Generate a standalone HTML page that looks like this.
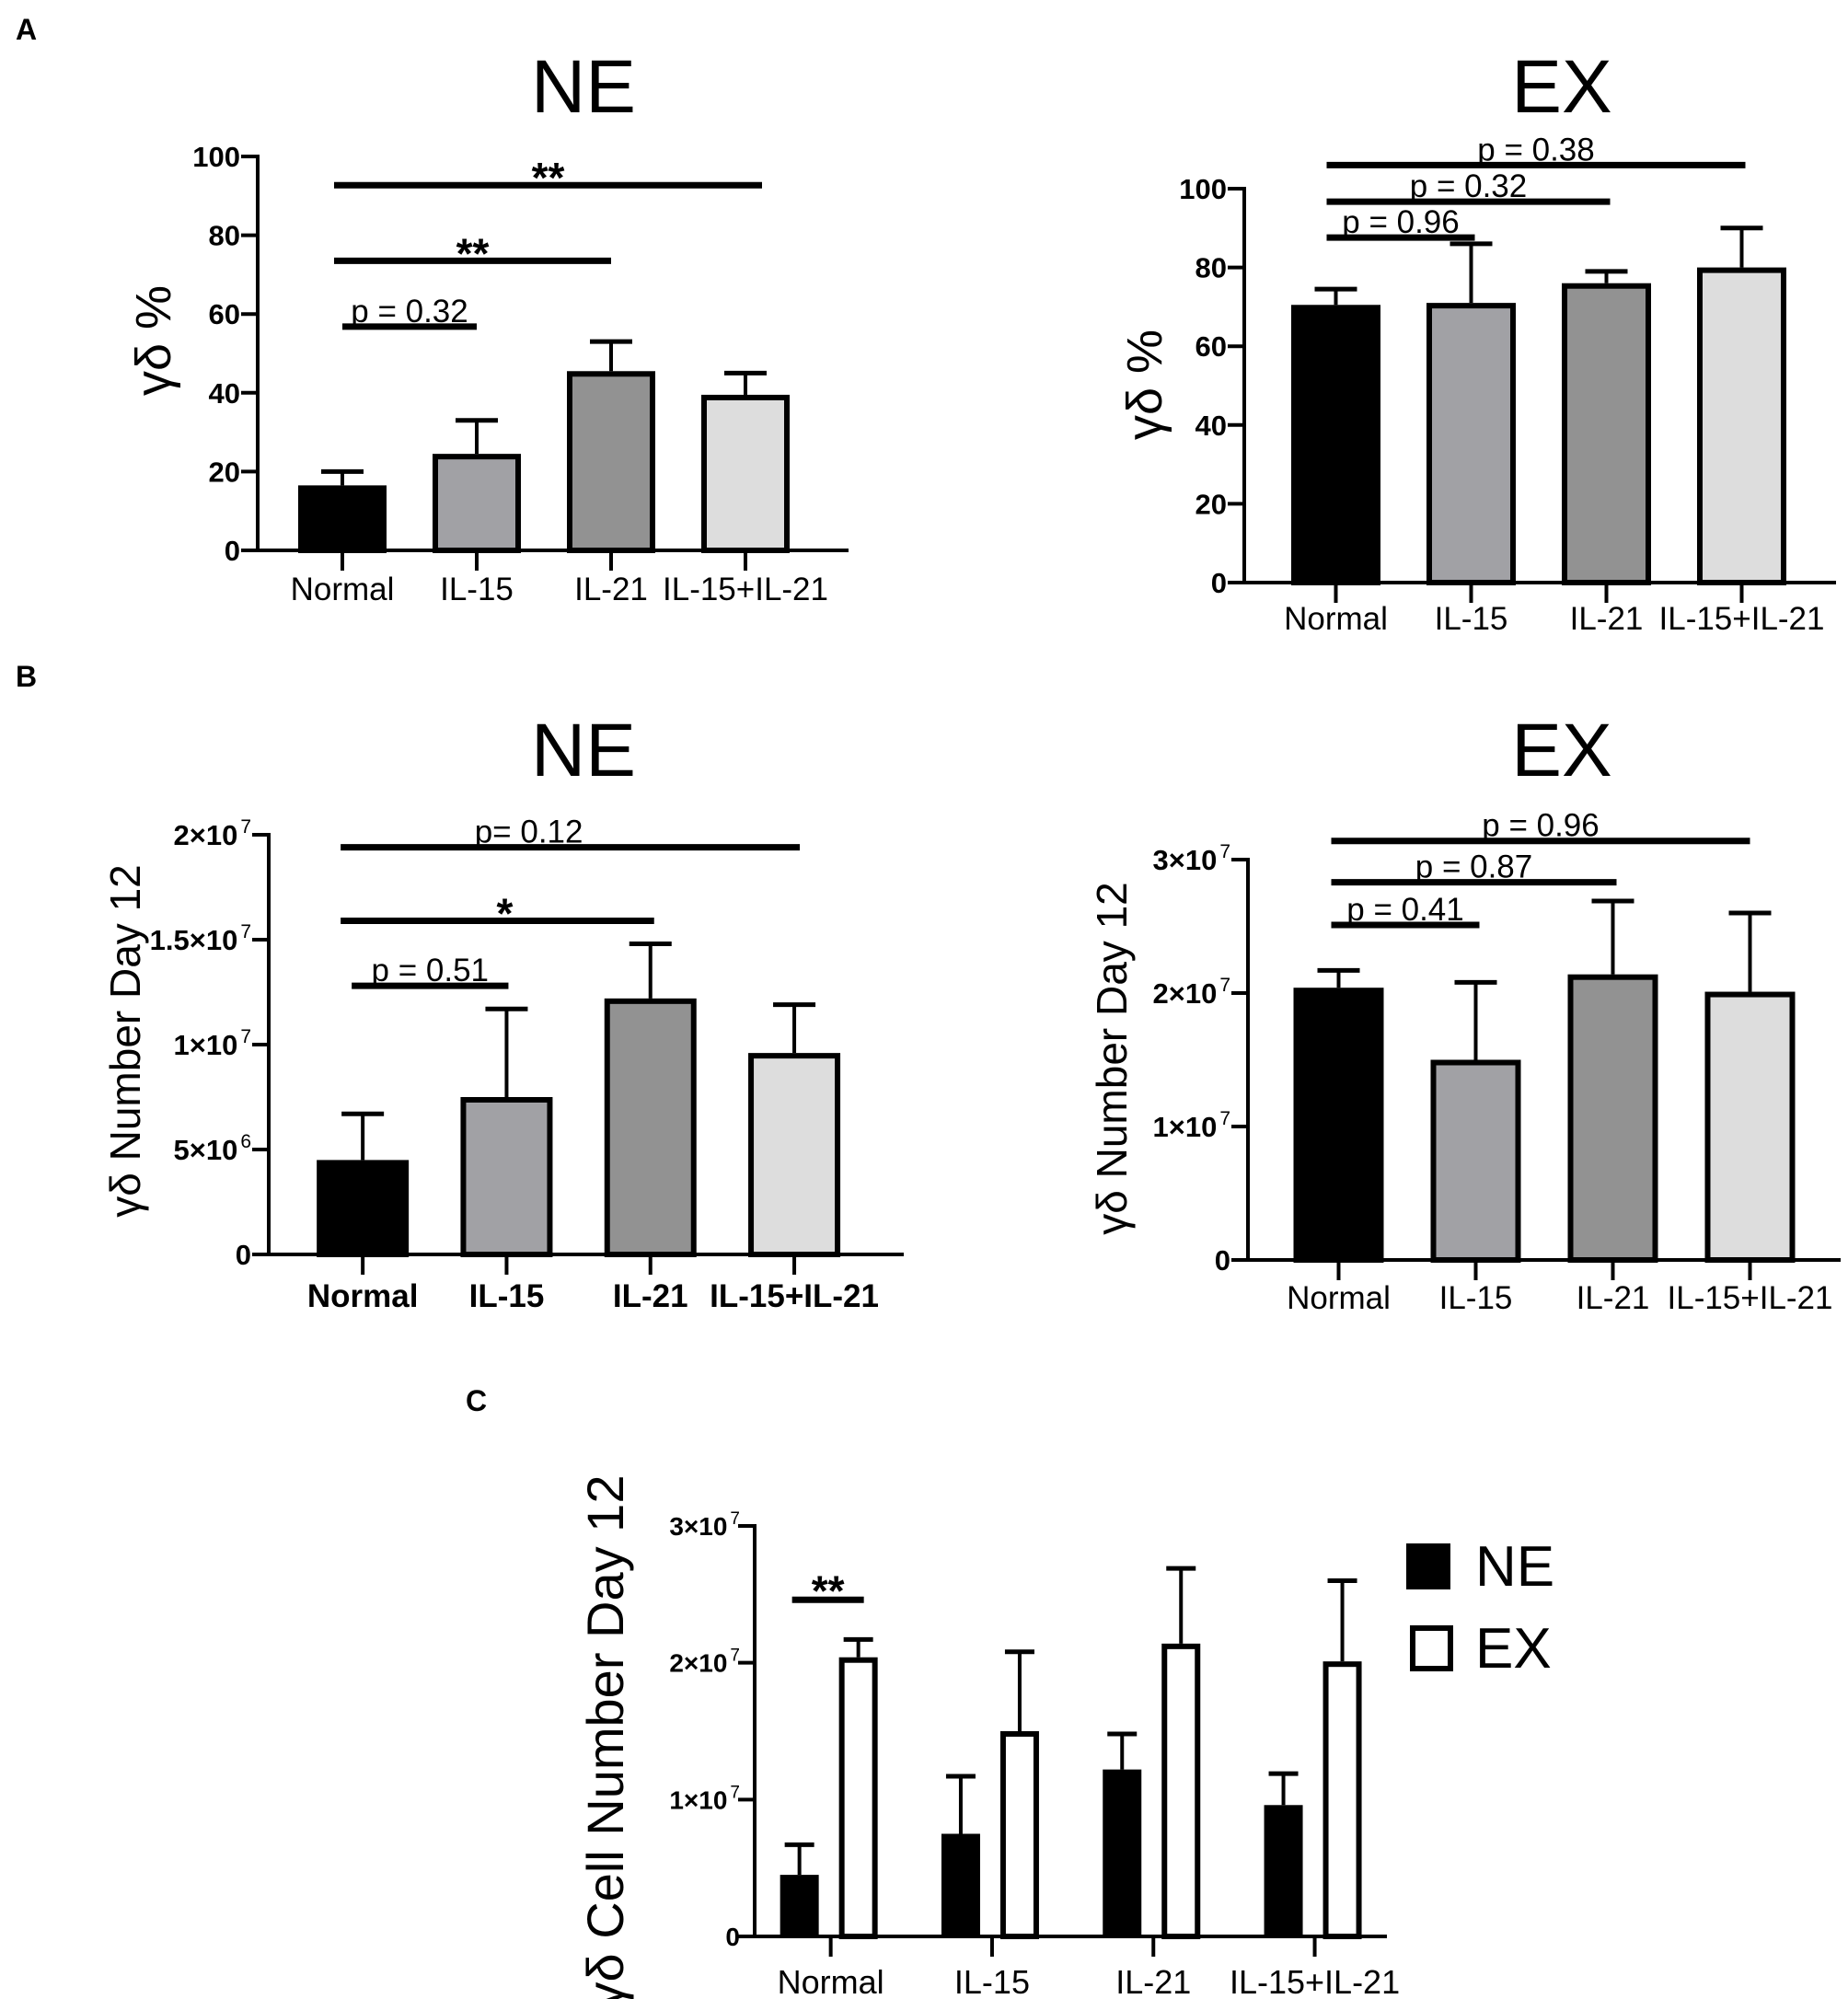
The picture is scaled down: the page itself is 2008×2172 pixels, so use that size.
<!DOCTYPE html>
<html><head><meta charset="utf-8"><title>γδ T cell figure</title>
<style>
html,body{margin:0;padding:0;background:#fff;}
svg{display:block;font-family:"Liberation Sans",Arial,sans-serif;}
.tick{font-weight:bold;font-size:31px;}
</style></head>
<body>
<svg id="fig" width="2008" height="2172" viewBox="0 0 2008 2172" xmlns="http://www.w3.org/2000/svg">
<text x="17" y="43" font-size="32" font-weight="bold">A</text>
<text x="17" y="746" font-size="32" font-weight="bold">B</text>
<text x="506" y="1533" font-size="32" font-weight="bold">C</text>
</svg>
<script>
// ---- data ----
const categories = ["Normal", "IL-15", "IL-21", "IL-15+IL-21"];
const aNeMean = [16.5, 24.5, 45.5, 39.5];
const aNeErr = [20, 33, 53, 45];
const aExMean = [70.5, 71, 76, 80];
const aExErr = [74.5, 86, 79, 90];
const bNeMean = [4.5, 7.5, 12.2, 9.6];     // ×10^6
const bNeErr = [6.7, 11.7, 14.8, 11.9];
const bExMean = [20.4, 15, 21.4, 20.1];    // ×10^6
const bExErr = [21.7, 20.8, 26.9, 26.0];
const pctTicks = [0, 20, 40, 60, 80, 100];
const pctTickLabels = ["0", "20", "40", "60", "80", "100"];
const bNeTicks = [0, 5, 10, 15, 20];
const bNeTickLabels = [["0",""], ["5×10","6"], ["1×10","7"], ["1.5×10","7"], ["2×10","7"]];
const exTicks = [0, 10, 20, 30];
const exTickLabels = [["0",""], ["1×10","7"], ["2×10","7"], ["3×10","7"]];
const aNeSig = [[0, 3, 92.7, "**"], [0, 2, 73.5, "**"], [0, 1, 56.8, "p = 0.32"]];
const aExSig = [[0, 3, 106, "p = 0.38"], [0, 2, 96.7, "p = 0.32"], [0, 1, 87.6, "p = 0.96"]];
const bNeSig = [[0, 3, 19.4, "p= 0.12"], [0, 2, 15.9, "*"], [0, 1, 12.8, "p = 0.51"]];
const bExSig = [[0, 3, 31.4, "p = 0.96"], [0, 2, 28.3, "p = 0.87"], [0, 1, 25.1, "p = 0.41"]];
const cSig = [[0, 24.6, "**"]];
const fills = ["#000000", "#a1a1a5", "#929292", "#dddddd"];

const NS = "http://www.w3.org/2000/svg";
const svg = document.getElementById("fig");
function mk(tag, attrs, parent) {
  const e = document.createElementNS(NS, tag);
  for (const k in attrs) e.setAttribute(k, attrs[k]);
  (parent || svg).appendChild(e);
  return e;
}
function lin(d0, d1, r0, r1) { return v => r0 + (v - d0) / (d1 - d0) * (r1 - r0); }

function panel(cfg) {
  const g = mk("g", {});
  
  
  const y = lin(0, cfg.vmax, cfg.y0, cfg.yMaxPx);
  const xc = i => cfg.left + (i + 0.5) * cfg.band;
  const t = mk("text", {x: cfg.titleX, y: cfg.titleY, "font-size": 82, "text-anchor": "middle"}, g);
  t.textContent = cfg.title;
  
  
  const yl = mk("text", {x: 0, y: 0, "font-size": cfg.ylSize, "text-anchor": "middle", transform: `translate(${cfg.ylX},${cfg.ylY}) rotate(-90)`}, g);
  yl.textContent = cfg.ylabel;
  
  
  cfg.mean.forEach((m, i) => {
    const x = xc(i), w = cfg.barW;
    const ep = mk("line", {x1: x, x2: x, y1: y(m), y2: y(cfg.err[i]), stroke: "#000", "stroke-width": 4}, g);
    
    
    const cap = mk("line", {x1: x - 23, x2: x + 23, y1: y(cfg.err[i]), y2: y(cfg.err[i]), stroke: "#000", "stroke-width": 5}, g);
    
    
    const r = mk("rect", {x: x - w / 2 + 3, y: y(m) + 3, width: w - 6, height: Math.max(0, cfg.y0 - y(m) - 3), fill: fills[i], stroke: "#000", "stroke-width": 6}, g);
    
    
  });
  const ya = mk("line", {x1: cfg.ax, x2: cfg.ax, y1: y(cfg.ticks[cfg.ticks.length - 1]) - 2, y2: cfg.y0 + 2, stroke: "#000", "stroke-width": 4}, g);
  
  
  const xa = mk("line", {x1: cfg.ax - 18, x2: cfg.xEnd, y1: cfg.y0, y2: cfg.y0, stroke: "#000", "stroke-width": 4}, g);
  
  
  cfg.ticks.forEach((tv, i) => {
    const tk = mk("line", {x1: cfg.ax - 18, x2: cfg.ax, y1: y(tv), y2: y(tv), stroke: "#000", "stroke-width": 4}, g);
    
    
    const lab = cfg.tickLabels[i];
    const tl = mk("text", {x: cfg.ax - 19, y: y(tv) + 11, "text-anchor": "end", class: "tick"}, g);
    if (Array.isArray(lab)) {
      const a = mk("tspan", {}, tl); a.textContent = lab[0];
      if (lab[1]) { const s = mk("tspan", {dx: 3, dy: -13, "font-size": 21, "font-weight": "normal"}, tl); s.textContent = lab[1]; }
    } else tl.textContent = lab;
    
    
  });
  categories.forEach((c, i) => {
    const tk = mk("line", {x1: xc(i), x2: xc(i), y1: cfg.y0, y2: cfg.y0 + 22, stroke: "#000", "stroke-width": 4}, g);
    
    
    const tl = mk("text", {x: xc(i), y: cfg.catY, "font-size": 35, "text-anchor": "middle", "font-weight": cfg.catBold ? "bold" : "normal"}, g);
    tl.textContent = c;
    
    
  });
  cfg.sig.forEach((s, k) => {
    const st = cfg.sigStyle[k];
    const x1 = xc(s[0]) + st[0], x2 = xc(s[1]) + st[1];
    const yy = y(s[2]);
    const ln = mk("line", {x1: x1, x2: x2, y1: yy, y2: yy, stroke: "#000", "stroke-width": 7}, g);
    
    
    const star = s[3].indexOf("*") === 0;
    const tx = mk("text", {x: (x1 + x2) / 2 + st[2], y: yy + (star ? 8 : -5), "font-size": star ? 46 : 35, "font-weight": star ? "bold" : "normal", "text-anchor": "middle"}, g);
    tx.textContent = s[3];
    
    
  });
}

panel({name: "chart-a-ne", title: "NE", titleX: 634, titleY: 122, ylabel: "γδ %", ylSize: 54, ylX: 185, ylY: 370,
  mean: aNeMean, err: aNeErr, vmax: 100, y0: 598, yMaxPx: 170, ax: 280, xEnd: 922, left: 299, band: 146, barW: 96,
  ticks: pctTicks, tickLabels: pctTickLabels, catY: 652, catBold: false, sig: aNeSig,
  sigStyle: [[-9, 18, 0], [-9, 0, 0], [0, 0, 0]]});
panel({name: "chart-a-ex", title: "EX", titleX: 1697, titleY: 122, ylabel: "γδ %", ylSize: 54, ylX: 1262, ylY: 418,
  mean: aExMean, err: aExErr, vmax: 100, y0: 633, yMaxPx: 205, ax: 1352, xEnd: 1995, left: 1378, band: 147, barW: 97,
  ticks: pctTicks, tickLabels: pctTickLabels, catY: 684, catBold: false, sig: aExSig,
  sigStyle: [[-10, 4, 0], [-10, 4, 0], [-10, 4, 0]]});
panel({name: "chart-b-ne", title: "NE", titleX: 634, titleY: 843, ylabel: "γδ Number Day 12", ylSize: 46, ylX: 152, ylY: 1131,
  mean: bNeMean, err: bNeErr, vmax: 20, y0: 1363, yMaxPx: 907, ax: 292, xEnd: 982, left: 316, band: 156.3, barW: 100,
  ticks: bNeTicks, tickLabels: bNeTickLabels, catY: 1420, catBold: true, sig: bNeSig,
  sigStyle: [[-24, 6, -45], [-24, 4, 8], [-12, 2, 0]]});
panel({name: "chart-b-ex", title: "EX", titleX: 1697, titleY: 843, ylabel: "γδ Number Day 12", ylSize: 46, ylX: 1224, ylY: 1150,
  mean: bExMean, err: bExErr, vmax: 30, y0: 1369, yMaxPx: 934, ax: 1356, xEnd: 2000, left: 1380, band: 149, barW: 98,
  ticks: exTicks, tickLabels: exTickLabels, catY: 1422, catBold: false, sig: bExSig,
  sigStyle: [[-8, 0, 0], [-8, 4, 0], [-8, 4, 0]]});

// ---- panel C grouped ----
(function () {
  const g = mk("g", {});
  
  
  const y0 = 2104, yTop = 1658, ax = 820;
  const y = lin(0, 30, y0, yTop);
  const xc = i => 815 + (i + 0.5) * 175.3;
  const yl = mk("text", {x: 0, y: 0, "font-size": 56, "text-anchor": "middle", transform: "translate(677,1892) rotate(-90)"}, g);
  yl.textContent = "γδ Cell Number Day 12";
  
  
  const series = [[bNeMean, bNeErr, -34, true], [bExMean, bExErr, 30, false]];
  series.forEach(s => {
    s[0].forEach((m, i) => {
      const x = xc(i) + s[2], w = 42;
      const ep = mk("line", {x1: x, x2: x, y1: y(m), y2: y(s[1][i]), stroke: "#000", "stroke-width": 4}, g);
      
      
      const cap = mk("line", {x1: x - 16, x2: x + 16, y1: y(s[1][i]), y2: y(s[1][i]), stroke: "#000", "stroke-width": 5}, g);
      
      
      const r = s[3]
        ? mk("rect", {x: x - w / 2, y: y(m), width: w, height: y0 - y(m), fill: "#000"}, g)
        : mk("rect", {x: x - w / 2 + 3, y: y(m) + 3, width: w - 6, height: y0 - y(m) - 3, fill: "#fff", stroke: "#000", "stroke-width": 6}, g);
      
      
    });
  });
  const ya = mk("line", {x1: ax, x2: ax, y1: yTop - 2, y2: y0 + 2, stroke: "#000", "stroke-width": 4}, g);
  
  
  const xa = mk("line", {x1: ax - 18, x2: 1507, y1: y0, y2: y0, stroke: "#000", "stroke-width": 4}, g);
  
  
  exTicks.forEach((tv, i) => {
    const tk = mk("line", {x1: ax - 18, x2: ax, y1: y(tv), y2: y(tv), stroke: "#000", "stroke-width": 4}, g);
    
    
    const lab = exTickLabels[i];
    const tl = mk("text", {x: ax - 16, y: y(tv) + 10, "text-anchor": "end", "font-weight": "bold", "font-size": 28}, g);
    const a = mk("tspan", {}, tl); a.textContent = lab[0];
    if (lab[1]) { const sp = mk("tspan", {dx: 3, dy: -12, "font-size": 19, "font-weight": "normal"}, tl); sp.textContent = lab[1]; }
    
    
  });
  categories.forEach((c, i) => {
    const tk = mk("line", {x1: xc(i), x2: xc(i), y1: y0, y2: y0 + 22, stroke: "#000", "stroke-width": 4}, g);
    
    
    const tl = mk("text", {x: xc(i), y: 2166, "font-size": 36, "text-anchor": "middle"}, g);
    tl.textContent = c;
    
    
  });
  cSig.forEach(s => {
    const x1 = xc(s[0]) - 42, x2 = xc(s[0]) + 36;
    const ln = mk("line", {x1: x1, x2: x2, y1: y(s[1]), y2: y(s[1]), stroke: "#000", "stroke-width": 7}, g);
    
    
    const tx = mk("text", {x: (x1 + x2) / 2, y: y(s[1]) + 6, "font-size": 46, "font-weight": "bold", "text-anchor": "middle"}, g);
    tx.textContent = s[2];
    
    
  });
  const l1 = mk("rect", {x: 1528, y: 1677, width: 48, height: 50, fill: "#000"}, g);
  
  
  const t1 = mk("text", {x: 1603, y: 1723, "font-size": 62}, g);
  t1.textContent = "NE";
  
  
  const l2 = mk("rect", {x: 1535, y: 1769, width: 41, height: 44, fill: "#fff", stroke: "#000", "stroke-width": 6}, g);
  
  
  const t2 = mk("text", {x: 1603, y: 1812, "font-size": 62}, g);
  t2.textContent = "EX";
  
  
})();
</script>
</body></html>
